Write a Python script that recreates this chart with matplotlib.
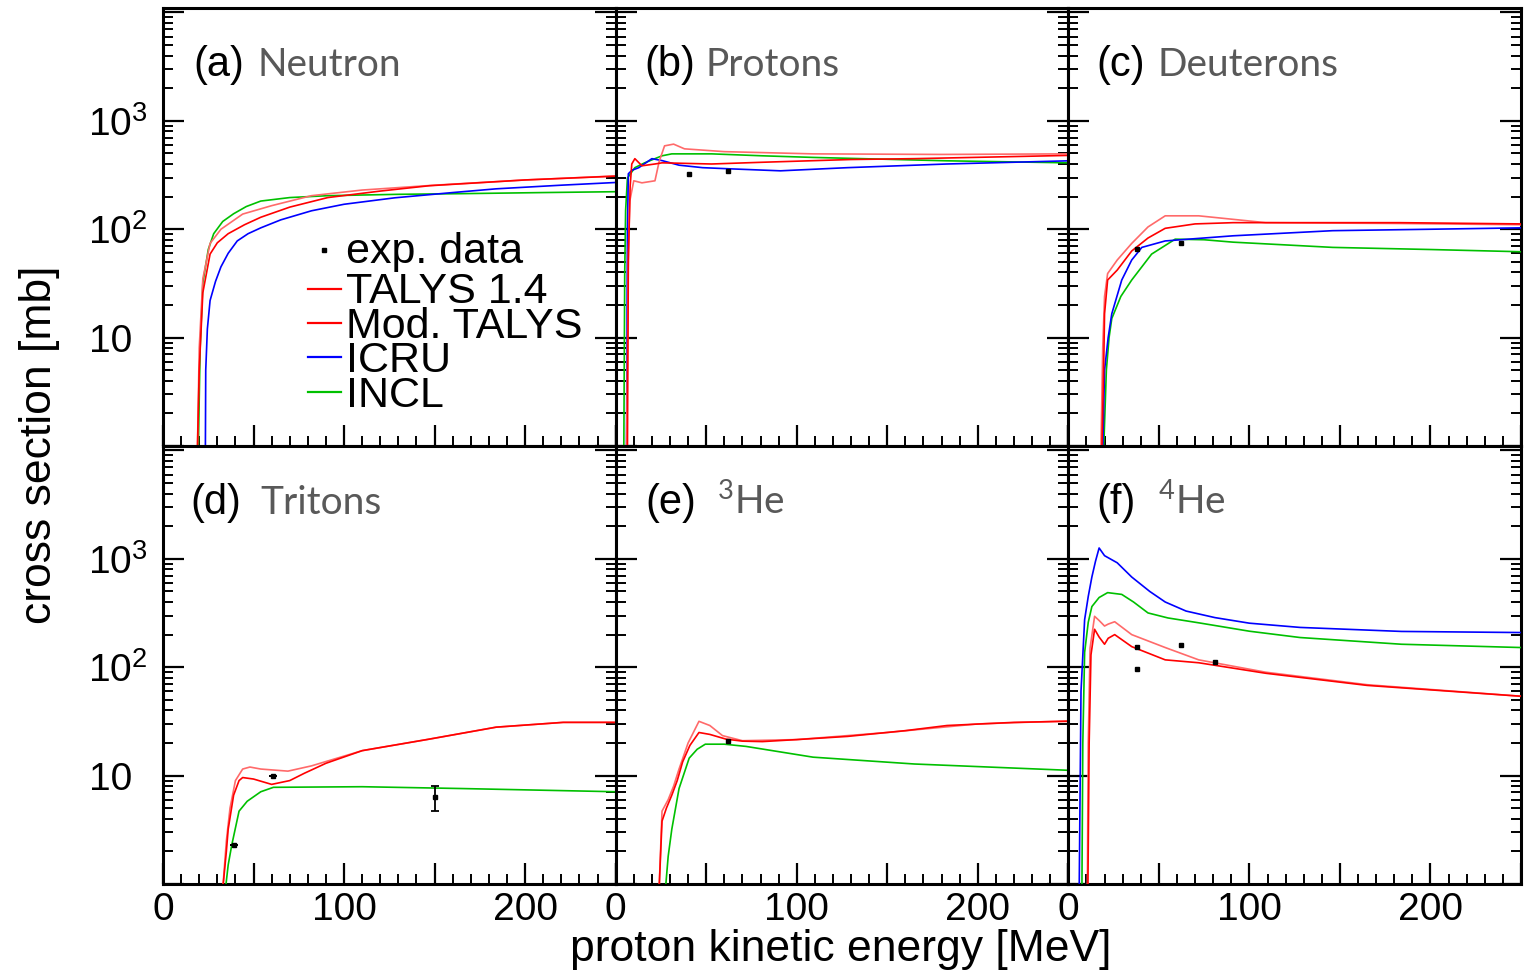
import matplotlib
matplotlib.use("Agg")
import matplotlib.pyplot as plt
from matplotlib.ticker import MultipleLocator, LogLocator, FixedLocator, FuncFormatter, NullFormatter
from matplotlib.lines import Line2D

# ---------------- data (energies in MeV, cross sections in mb) ----------------
# (a) Neutron
n_talys14_E = [19, 20, 22, 26, 32, 44, 60, 82, 110, 150, 200, 250]
n_talys14 = [0.9, 8, 35, 74, 100, 138, 165, 204, 230, 255, 285, 310]
n_mod_E = [19, 20, 22, 26, 30, 36, 45, 54, 70, 91, 120, 147, 200, 250]
n_mod = [0.9, 5, 26, 59, 75, 91, 110, 129, 160, 196, 225, 252, 285, 309]
n_icru_E = [23.4, 23.6, 24.5, 26, 29, 32, 36, 41, 47, 54, 65, 82, 100, 128, 160, 184, 220, 250]
n_icru = [0.9, 5, 12, 22, 33, 45, 60, 78, 91, 103, 122, 148, 170, 195, 218, 236, 255, 270]
n_incl_E = [19.5, 20.5, 22, 25, 28, 33, 39, 46, 54, 70, 91, 130, 165, 210, 250]
n_incl = [0.9, 8, 32, 65, 91, 118, 139, 162, 182, 196, 204, 210, 213, 218, 222]

# (b) Protons
p_talys14_E = [6, 7, 7.8, 10, 14.5, 21.7, 24, 27, 32, 38, 60, 109, 180, 250]
p_talys14 = [0.9, 60, 182, 280, 268, 280, 420, 588, 610, 552, 520, 496, 490, 496]
p_mod_E = [6.5, 7, 8, 8.9, 10.6, 14.5, 21.7, 25.6, 53, 81, 130, 165, 250]
p_mod = [0.9, 50, 250, 400, 448, 385, 400, 410, 400, 415, 440, 448, 480]
p_icru_E = [6, 6.5, 7, 9, 12.8, 20, 25.6, 35, 48, 63, 91, 128, 183, 250]
p_icru = [0.9, 100, 325, 350, 370, 448, 430, 390, 370, 361, 346, 370, 400, 428]
p_incl_E = [4.5, 5, 5.5, 6.5, 10.6, 16, 25.6, 31, 53, 81, 109, 183, 250]
p_incl = [0.9, 40, 150, 297, 370, 410, 476, 496, 496, 476, 460, 428, 410]
p_exp_E = [40.6, 62]
p_exp = [325, 346]

# (c) Deuterons
d_talys14_E = [18, 19, 20, 21.7, 27, 35, 44, 53.5, 72, 109, 183, 250]
d_talys14 = [0.9, 8, 24, 39, 52, 74, 105, 133, 133, 115, 113, 110]
d_mod_E = [18.5, 19.5, 20, 21.7, 27, 35, 44, 53.5, 70, 91, 140, 183, 250]
d_mod = [0.9, 5, 16.6, 34, 42, 63, 83, 102, 112, 115, 115, 115, 112]
d_icru_E = [19, 20, 22, 24, 29.5, 35, 40.6, 53.5, 91, 146, 200, 250]
d_icru = [0.9, 5, 10, 16.6, 34, 52, 68, 78, 87, 97, 100, 103]
d_incl_E = [19.5, 21, 22.5, 24, 29, 35, 46, 59, 75, 91, 146, 200, 250]
d_incl = [0.9, 5, 10, 15, 24, 34, 59, 81, 80, 76, 68, 65, 62]
d_exp_E = [38, 62]
d_exp = [66, 74]

# (d) Tritons
t_talys14_E = [33, 35, 37, 40, 44, 48, 54, 69, 82, 110, 147, 184, 221, 250]
t_talys14 = [0.9, 2.5, 5, 9, 11.5, 12, 11.5, 11, 12.3, 17, 21.7, 28, 31, 31]
t_mod_E = [33, 35, 36, 39, 42, 44, 50, 60, 70, 78, 90, 110, 147, 184, 221, 250]
t_mod = [0.9, 2, 3.2, 6.6, 9, 9.6, 9.3, 8.3, 9, 10.5, 13, 17, 21.7, 28, 31, 31]
t_incl_E = [34.5, 36, 38, 42, 46.5, 54, 61, 110, 165, 250]
t_incl = [0.9, 1.5, 2.3, 4.7, 5.8, 7.1, 7.8, 7.9, 7.6, 7.1]
t_exp_E = [39, 61, 150]
t_exp = [2.3, 10, 6.4]
t_exp_lo = [0, 0, 1.7]
t_exp_hi = [0, 0, 1.7]

# (e) 3He
h3_talys14_E = [24, 25.6, 29, 32, 35, 40, 46, 52, 59, 70, 100, 150, 200, 250]
h3_talys14 = [0.9, 4.7, 6, 8, 11.5, 20, 31.7, 29, 23.4, 21, 21.5, 25, 30, 32]
h3_mod_E = [24, 25.6, 28, 31, 34, 37, 41, 46, 52, 61, 70, 81, 100, 128, 160, 183, 220, 250]
h3_mod = [0.9, 3.8, 5, 6.6, 9, 13.4, 19, 25, 24, 21.7, 20.8, 20.6, 21.5, 23, 26, 29, 31, 31.7]
h3_incl_E = [27.5, 29, 31, 35, 40.6, 45, 49.5, 60, 72, 109, 165, 250]
h3_incl = [0.9, 1.8, 3.2, 7.6, 14.5, 17.5, 19.5, 19.5, 18.6, 14.8, 12.8, 11.2]
h3_exp_E = [62]
h3_exp = [21]

# (f) 4He
h4_talys14_E = [10.5, 11, 12, 14.5, 17, 20, 22, 25.6, 35, 53.5, 72, 109, 165, 250]
h4_talys14 = [0.9, 20, 150, 295, 270, 240, 250, 263, 200, 152, 117, 90, 69, 54]
h4_mod_E = [10.8, 11.5, 12.5, 14.5, 17, 20, 22, 25.6, 35, 53.5, 72, 109, 165, 250]
h4_mod = [0.9, 20, 130, 224, 190, 163, 185, 200, 155, 117, 110, 88, 68, 54]
h4_icru_E = [6, 7, 9, 11, 13, 15, 17, 20, 27, 35, 45, 53.5, 65, 81, 100, 128, 184, 250]
h4_icru = [0.9, 60, 275, 450, 680, 950, 1260, 1070, 920, 680, 500, 400, 330, 287, 255, 233, 214, 209]
h4_incl_E = [7.5, 8, 9, 11, 13, 17, 21.7, 29.5, 36, 44, 55, 72, 100, 128, 184, 250]
h4_incl = [0.9, 20, 137, 260, 363, 440, 488, 470, 400, 317, 285, 257, 215, 188, 163, 152]
h4_exp_E = [38, 38, 62, 81]
h4_exp = [155, 96, 160, 112]

panel_letters = ["(a)", "(b)", "(c)", "(d)", "(e)", "(f)"]
panel_names = ["Neutron", "Protons", "Deuterons", "Tritons",
               r"$\mathregular{^{3}}$He", r"$\mathregular{^{4}}$He"]
legend_labels = ["exp. data", "TALYS 1.4", "Mod. TALYS", "ICRU", "INCL"]

# ---------------- styling ----------------
RED = "#ff0000"
RED_LIGHT = "#ff6a6a"
BLUE = "#0000ff"
GREEN = "#00c000"
LW = 1.2

plt.rcParams["font.family"] = ["Liberation Sans", "DejaVu Sans"]
plt.rcParams["mathtext.default"] = "regular"

fig = plt.figure(figsize=(15.25, 9.76), dpi=100)
gs = fig.add_gridspec(2, 3, left=163 / 1525, right=1521 / 1525,
                      top=1 - 8 / 976, bottom=1 - 884 / 976, wspace=0, hspace=0)
axes = [fig.add_subplot(gs[i // 3, i % 3]) for i in range(6)]

panels = [
    dict(talys=(n_talys14_E, n_talys14), mod=(n_mod_E, n_mod), icru=(n_icru_E, n_icru),
         incl=(n_incl_E, n_incl), exp=None),
    dict(talys=(p_talys14_E, p_talys14), mod=(p_mod_E, p_mod), icru=(p_icru_E, p_icru),
         incl=(p_incl_E, p_incl), exp=(p_exp_E, p_exp, None)),
    dict(talys=(d_talys14_E, d_talys14), mod=(d_mod_E, d_mod), icru=(d_icru_E, d_icru),
         incl=(d_incl_E, d_incl), exp=(d_exp_E, d_exp, None)),
    dict(talys=(t_talys14_E, t_talys14), mod=(t_mod_E, t_mod), icru=None,
         incl=(t_incl_E, t_incl), exp=(t_exp_E, t_exp, [t_exp_lo, t_exp_hi])),
    dict(talys=(h3_talys14_E, h3_talys14), mod=(h3_mod_E, h3_mod), icru=None,
         incl=(h3_incl_E, h3_incl), exp=(h3_exp_E, h3_exp, None)),
    dict(talys=(h4_talys14_E, h4_talys14), mod=(h4_mod_E, h4_mod), icru=(h4_icru_E, h4_icru),
         incl=(h4_incl_E, h4_incl), exp=(h4_exp_E, h4_exp, None)),
]

yticks_major = [1, 10, 100, 1000, 10000]
ylabel_map = {10: "10\u2009\u2009", 100: r"$\mathregular{10^{2}}$",
              1000: r"$\mathregular{10^{3}}$"}

name_offsets = [94, 89, 88, 97, 101, 89]
letter_offsets = [30, 28, 28, 27, 29, 28]

for i, (ax, p) in enumerate(zip(axes, panels)):
    ax.set_yscale("log")
    if p["incl"] is not None:
        ax.plot(*p["incl"], color=GREEN, lw=LW, zorder=3)
    if p["icru"] is not None:
        ax.plot(*p["icru"], color=BLUE, lw=LW, zorder=3)
    ax.plot(*p["talys"], color=RED_LIGHT, lw=LW, zorder=4)
    ax.plot(*p["mod"], color=RED, lw=LW, zorder=4)
    if p["exp"] is not None:
        ex, ey, err = p["exp"]
        if err is None:
            ax.plot(ex, ey, "s", color="black", ms=3, zorder=5)
        else:
            ax.errorbar(ex, ey, yerr=err, fmt="s", color="black", ms=3, capsize=3,
                        elinewidth=1.3, capthick=1.3, zorder=5)

    ax.set_xlim(0, 250)
    ax.set_ylim(1, 1.1e4)
    ax.xaxis.set_major_locator(MultipleLocator(50))
    ax.xaxis.set_minor_locator(MultipleLocator(10))
    ax.yaxis.set_major_locator(FixedLocator(yticks_major))
    ax.yaxis.set_minor_locator(LogLocator(base=10, subs=range(2, 10), numticks=20))
    ax.yaxis.set_minor_formatter(NullFormatter())
    ax.tick_params(which="both", direction="in", top=False, right=True)
    ax.tick_params(which="major", length=15, width=1.6)
    ax.tick_params(which="minor", length=7, width=1.4)
    ax.tick_params(axis="x", labelsize=28, pad=6)
    ax.tick_params(axis="y", labelsize=28, pad=11)
    for s in ax.spines.values():
        s.set_linewidth(2.2)

    if i >= 3:
        ax.xaxis.set_major_formatter(FuncFormatter(
            lambda v, pos: f"{int(round(v))}" if round(v) % 100 == 0 and v < 250 else ""))
    else:
        ax.xaxis.set_major_formatter(NullFormatter())
    if i % 3 == 0:
        ax.yaxis.set_major_formatter(FuncFormatter(
            lambda v, pos: ylabel_map.get(int(round(v)), "")))
    else:
        ax.yaxis.set_major_formatter(NullFormatter())

    yb = 1 - 68 / 438
    ax.text(letter_offsets[i] / 449, yb, panel_letters[i], transform=ax.transAxes,
            fontsize=30, color="black", va="baseline", ha="left")
    ax.text(name_offsets[i] / 449, yb, panel_names[i], transform=ax.transAxes,
            fontsize=28, color="#595959", va="baseline", ha="left",
            family=["Lato", "DejaVu Sans"])

# legend drawn inside panel (a)
ax = axes[0]
leg_colors = [None, RED, RED, BLUE, GREEN]
leg_base = [0.418, 0.326, 0.247, 0.169, 0.089]
leg_line = [0.447, 0.358, 0.281, 0.203, 0.123]
for lab, col, yb, yl in zip(legend_labels, leg_colors, leg_base, leg_line):
    if col is None:
        ax.add_line(Line2D([0.356], [yl], transform=ax.transAxes, marker="s",
                           color="black", ms=3, ls="none"))
    else:
        ax.add_line(Line2D([0.321, 0.394], [yl, yl], transform=ax.transAxes,
                           color=col, lw=1.6))
    ax.text(0.405, yb, lab, transform=ax.transAxes, fontsize=31, va="baseline",
            ha="left", color="black")

fig.text(0.551, 1 - 950 / 976, "proton kinetic energy [MeV]", fontsize=32,
         ha="center", va="center")
fig.text(40 / 1525, 1 - 445 / 976, "cross section [mb]", fontsize=32,
         ha="center", va="center", rotation=90)

fig.savefig("out.png", dpi=100)
